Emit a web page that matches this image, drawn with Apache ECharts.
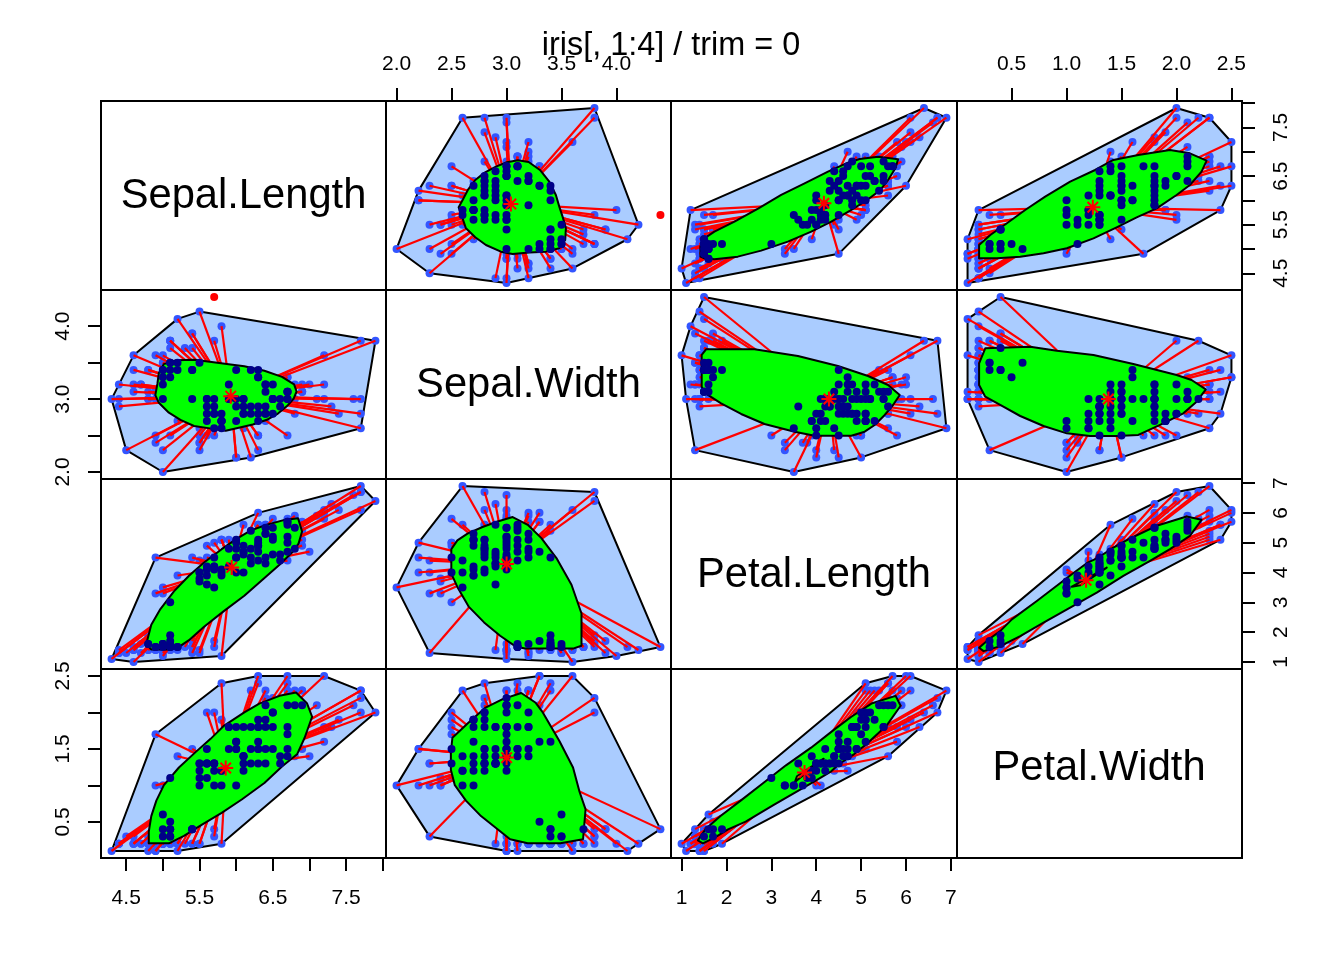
<!DOCTYPE html>
<html><head><meta charset="utf-8">
<style>html,body{margin:0;padding:0;background:#fff}#c{width:1344px;height:960px}</style>
<script src="https://cdn.jsdelivr.net/npm/echarts@6/dist/echarts.min.js"></script>
</head><body><div id="c"></div>
<script>
const sepalLength=[5.1,4.9,4.7,4.6,5.0,5.4,4.6,5.0,4.4,4.9,5.4,4.8,4.8,4.3,5.8,5.7,5.4,5.1,5.7,5.1,5.4,5.1,4.6,5.1,4.8,5.0,5.0,5.2,5.2,4.7,4.8,5.4,5.2,5.5,4.9,5.0,5.5,4.9,4.4,5.1,5.0,4.5,4.4,5.0,5.1,4.8,5.1,4.6,5.3,5.0,
7.0,6.4,6.9,5.5,6.5,5.7,6.3,4.9,6.6,5.2,5.0,5.9,6.0,6.1,5.6,6.7,5.6,5.8,6.2,5.6,5.9,6.1,6.3,6.1,6.4,6.6,6.8,6.7,6.0,5.7,5.5,5.5,5.8,6.0,5.4,6.0,6.7,6.3,5.6,5.5,5.5,6.1,5.8,5.0,5.6,5.7,5.7,6.2,5.1,5.7,
6.3,5.8,7.1,6.3,6.5,7.6,4.9,7.3,6.7,7.2,6.5,6.4,6.8,5.7,5.8,6.4,6.5,7.7,7.7,6.0,6.9,5.6,7.7,6.3,6.7,7.2,6.2,6.1,6.4,7.2,7.4,7.9,6.4,6.3,6.1,7.7,6.3,6.4,6.0,6.9,6.7,6.9,5.8,6.8,6.7,6.7,6.3,6.5,6.2,5.9];
const sepalWidth=[3.5,3.0,3.2,3.1,3.6,3.9,3.4,3.4,2.9,3.1,3.7,3.4,3.0,3.0,4.0,4.4,3.9,3.5,3.8,3.8,3.4,3.7,3.6,3.3,3.4,3.0,3.4,3.5,3.4,3.2,3.1,3.4,4.1,4.2,3.1,3.2,3.5,3.6,3.0,3.4,3.5,2.3,3.2,3.5,3.8,3.0,3.8,3.2,3.7,3.3,
3.2,3.2,3.1,2.3,2.8,2.8,3.3,2.4,2.9,2.7,2.0,3.0,2.2,2.9,2.9,3.1,3.0,2.7,2.2,2.5,3.2,2.8,2.5,2.8,2.9,3.0,2.8,3.0,2.9,2.6,2.4,2.4,2.7,2.7,3.0,3.4,3.1,2.3,3.0,2.5,2.6,3.0,2.6,2.3,2.7,3.0,2.9,2.9,2.5,2.8,
3.3,2.7,3.0,2.9,3.0,3.0,2.5,2.9,2.5,3.6,3.2,2.7,3.0,2.5,2.8,3.2,3.0,3.8,2.6,2.2,3.2,2.8,2.8,2.7,3.3,3.2,2.8,3.0,2.8,3.0,2.8,3.8,2.8,2.8,2.6,3.0,3.4,3.1,3.0,3.1,3.1,3.1,2.7,3.2,3.3,3.0,2.5,3.0,3.4,3.0];
const petalLength=[1.4,1.4,1.3,1.5,1.4,1.7,1.4,1.5,1.4,1.5,1.5,1.6,1.4,1.1,1.2,1.5,1.3,1.4,1.7,1.5,1.7,1.5,1.0,1.7,1.9,1.6,1.6,1.5,1.4,1.6,1.6,1.5,1.5,1.4,1.5,1.2,1.3,1.4,1.3,1.5,1.3,1.3,1.3,1.6,1.9,1.4,1.6,1.4,1.5,1.4,
4.7,4.5,4.9,4.0,4.6,4.5,4.7,3.3,4.6,3.9,3.5,4.2,4.0,4.7,3.6,4.4,4.5,4.1,4.5,3.9,4.8,4.0,4.9,4.7,4.3,4.4,4.8,5.0,4.5,3.5,3.8,3.7,3.9,5.1,4.5,4.5,4.7,4.4,4.1,4.0,4.4,4.6,4.0,3.3,4.2,4.2,4.2,4.3,3.0,4.1,
6.0,5.1,5.9,5.6,5.8,6.6,4.5,6.3,5.8,6.1,5.1,5.3,5.5,5.0,5.1,5.3,5.5,6.7,6.9,5.0,5.7,4.9,6.7,4.9,5.7,6.0,4.8,4.9,5.6,5.8,6.1,6.4,5.6,5.1,5.6,6.1,5.6,5.5,4.8,5.4,5.6,5.1,5.1,5.9,5.7,5.2,5.0,5.2,5.4,5.1];
const petalWidth=[0.2,0.2,0.2,0.2,0.2,0.4,0.3,0.2,0.2,0.1,0.2,0.2,0.1,0.1,0.2,0.4,0.4,0.3,0.3,0.3,0.2,0.4,0.2,0.5,0.2,0.2,0.4,0.2,0.2,0.2,0.2,0.4,0.1,0.2,0.2,0.2,0.2,0.1,0.2,0.2,0.3,0.3,0.2,0.6,0.4,0.3,0.2,0.2,0.2,0.2,
1.4,1.5,1.5,1.3,1.5,1.3,1.6,1.0,1.3,1.4,1.0,1.5,1.0,1.4,1.3,1.4,1.5,1.0,1.5,1.1,1.8,1.3,1.5,1.2,1.3,1.4,1.4,1.7,1.5,1.0,1.1,1.0,1.2,1.6,1.5,1.6,1.5,1.3,1.3,1.3,1.2,1.4,1.2,1.0,1.3,1.2,1.3,1.3,1.1,1.3,
2.5,1.9,2.1,1.8,2.2,2.1,1.7,1.8,1.8,2.5,2.0,1.9,2.1,2.0,2.4,2.3,1.8,2.2,2.3,1.5,2.3,2.0,2.0,1.8,2.1,1.8,1.8,1.8,2.1,1.6,1.9,2.0,2.2,1.5,1.4,2.3,2.4,1.8,1.8,2.1,2.4,2.3,1.9,2.3,2.5,2.3,1.9,2.0,2.3,1.8];
const varNames=['Sepal.Length','Sepal.Width','Petal.Length','Petal.Width'];
const mainTitle='iris[, 1:4] / trim = 0';

// bag outlines (x variable, y variable)
const bagSW_SL_x=[2.565,2.607,2.652,2.716,2.801,2.904,3.004,3.104,3.201,3.304,3.389,3.449,3.480,3.510,3.540,3.534,3.480,3.358,3.207,3.055,2.949,2.813,2.716,2.631,2.595];
const bagSW_SL_y=[5.857,6.035,6.227,6.419,6.570,6.694,6.783,6.824,6.790,6.625,6.385,6.111,5.871,5.665,5.425,5.185,5.014,4.945,4.925,4.897,4.945,5.082,5.240,5.425,5.665];
const bagPL_SL_x=[1.419,1.419,1.471,1.731,2.178,2.713,3.219,3.740,4.261,4.707,4.968,5.377,5.823,5.764,5.600,5.414,5.154,4.782,4.335,3.889,3.368,2.773,2.252,1.731,1.508];
const bagPL_SL_y=[4.842,5.048,5.199,5.356,5.562,5.836,6.111,6.351,6.591,6.776,6.851,6.899,6.844,6.659,6.419,6.200,6.022,5.802,5.562,5.356,5.151,4.966,4.842,4.787,4.808];
const bagPW_SL_x=[0.205,0.205,0.307,0.458,0.624,0.806,1.033,1.260,1.426,1.653,1.941,2.122,2.274,2.228,2.122,2.001,1.820,1.638,1.456,1.245,1.003,0.791,0.579,0.367];
const bagPW_SL_y=[4.808,5.082,5.288,5.528,5.802,6.076,6.385,6.625,6.831,6.934,7.036,6.968,6.817,6.591,6.316,6.111,5.836,5.651,5.446,5.219,5.014,4.911,4.842,4.808];
const bagPL_SW_x=[1.448,1.545,2.624,3.591,4.484,5.154,5.600,5.860,5.711,5.526,5.302,5.079,4.782,3.963,3.517,2.847,2.326,1.880,1.508,1.448];
const bagPL_SW_y=[3.605,3.682,3.682,3.591,3.454,3.317,3.193,3.056,2.919,2.782,2.645,2.553,2.498,2.498,2.553,2.658,2.796,2.942,3.088,3.170];
const bagPW_SW_x=[0.205,0.261,0.670,0.912,1.245,1.608,2.001,2.137,2.267,2.183,2.062,1.880,1.653,1.456,1.214,1.003,0.791,0.579,0.397,0.261,0.205];
const bagPW_SW_y=[3.490,3.696,3.719,3.664,3.605,3.481,3.330,3.262,3.134,2.965,2.805,2.668,2.508,2.494,2.494,2.530,2.631,2.768,2.919,3.033,3.193];
const bagPW_PL_x=[0.205,0.291,0.397,0.503,0.730,1.048,1.193,1.290,1.426,1.578,1.820,2.092,2.228,2.122,1.941,1.744,1.517,1.275,1.033,0.791,0.579,0.397,0.246];
const bagPW_PL_y=[1.475,1.755,2.035,2.428,3.044,3.941,4.334,4.502,4.838,5.141,5.567,5.880,5.768,5.230,4.782,4.356,3.885,3.325,2.820,2.316,1.867,1.531,1.363];
// small sliver inside the Petal bag
const notchPW=[1.048,1.366,1.125];
const notchPL=[3.526,4.165,3.570];
// bag centres
const centerSW_SL=[3.04,5.926], centerPL_SL=[4.171,5.939], centerPW_SL=[1.239,5.857];
const centerPL_SW=[4.283,3.001], centerPW_SW=[1.381,3.001], centerPW_PL=[1.178,3.739];
// outlier of the Sepal pair
const outlierSW_SL=[4.4,5.7];

// scales and ticks
const axisMin=[4.156,1.904,0.764,0.004], axisMax=[8.044,4.496,7.136,2.596];
const tickVals=[[4.5,5,5.5,6,6.5,7,7.5,8],[2,2.5,3,3.5,4],[1,2,3,4,5,6,7],[0.5,1,1.5,2,2.5]];
const labelsX=[[4.5,5.5,6.5,7.5],[2,2.5,3,3.5,4],[1,2,3,4,5,6,7],[0.5,1,1.5,2,2.5]];
const labelsY=[[4.5,5.5,6.5,7.5],[2,3,4],[1,2,3,4,5,6,7],[0.5,1.5,2.5]];
const decimals=[1,1,0,1];

const vars=[sepalLength,sepalWidth,petalLength,petalWidth];
const bags={'1,0':[bagSW_SL_x,bagSW_SL_y,centerSW_SL],'2,0':[bagPL_SL_x,bagPL_SL_y,centerPL_SL],'3,0':[bagPW_SL_x,bagPW_SL_y,centerPW_SL],
 '2,1':[bagPL_SW_x,bagPL_SW_y,centerPL_SW],'3,1':[bagPW_SW_x,bagPW_SW_y,centerPW_SW],'3,2':[bagPW_PL_x,bagPW_PL_y,centerPW_PL]};

const X=[101,386,671,957,1242], Y=[101,290,479,669,858];
const C={hull:'#aaccff',outer:'#3355ff',inner:'#000088',bag:'#00ff00',red:'#ff0000'};
const FONT='Liberation Sans';
const STAR='path://M5 0L5 10M0 5L10 5M1.5 1.5L8.5 8.5M1.5 8.5L8.5 1.5';

function inside(p,poly){let c=false;for(let i=0,j=poly.length-1;i<poly.length;j=i++){const a=poly[i],b=poly[j];
  if((a[1]>p[1])!==(b[1]>p[1])&&p[0]<(b[0]-a[0])*(p[1]-a[1])/(b[1]-a[1])+a[0])c=!c;}return c;}
function hull(pts){const s=pts.slice().sort((a,b)=>a[0]-b[0]||a[1]-b[1]);
  const cr=(o,a,b)=>(a[0]-o[0])*(b[1]-o[1])-(a[1]-o[1])*(b[0]-o[0]);
  const lo=[],up=[];for(const p of s){while(lo.length>1&&cr(lo[lo.length-2],lo[lo.length-1],p)<=0)lo.pop();lo.push(p);}
  for(const p of s.slice().reverse()){while(up.length>1&&cr(up[up.length-2],up[up.length-1],p)<=0)up.pop();up.push(p);}
  return lo.slice(0,-1).concat(up.slice(0,-1));}
function polySeries(g,pts,fill,stroke,lw,z){return {type:'custom',coordinateSystem:'cartesian2d',xAxisIndex:g,yAxisIndex:g,z,silent:true,animation:false,clip:false,
  data:pts,encode:{x:0,y:1},renderItem(params,api){if(params.dataIndex!==0)return null;
    return {type:'polygon',shape:{points:pts.map(p=>api.coord(p))},style:{fill,stroke,lineWidth:lw,lineJoin:'round'}};}};}

const grid=[],xAxis=[],yAxis=[],series=[],graphic=[];
const lab={fontFamily:FONT,fontSize:21,color:'#000'};
let g=0;
for(let i=0;i<4;i++)for(let j=0;j<4;j++){
  grid.push({left:X[j],top:Y[i],width:X[j+1]-X[j],height:Y[i+1]-Y[i],show:true,borderColor:'#000',borderWidth:2,backgroundColor:'transparent',containLabel:false});
  if(i===j){
    xAxis.push({type:'value',gridIndex:g,show:false,min:0,max:1});
    yAxis.push({type:'value',gridIndex:g,show:false,min:0,max:1});
    g++;continue;
  }
  const showX=(j%2===0&&i===3)||(j%2===1&&i===0);
  const showY=(i%2===0&&j===3)||(i%2===1&&j===0);
  const bottom=j%2===0, left=i%2===1;
  xAxis.push({type:'value',gridIndex:g,show:showX,min:axisMin[j],max:axisMax[j],position:bottom?'bottom':'top',splitLine:{show:false},
    axisLine:{show:true,onZero:false,lineStyle:{color:'#000',width:2}},
    axisTick:{show:true,length:13,inside:false,customValues:tickVals[j],lineStyle:{color:'#000',width:2}},
    axisLabel:{...lab,show:true,margin:bottom?30:26,customValues:labelsX[j],hideOverlap:false,formatter:v=>(+v).toFixed(decimals[j])}});
  yAxis.push({type:'value',gridIndex:g,show:showY,min:axisMin[i],max:axisMax[i],position:left?'left':'right',splitLine:{show:false},
    axisLine:{show:true,onZero:false,lineStyle:{color:'#000',width:2}},
    axisTick:{show:true,length:13,inside:false,customValues:tickVals[i],lineStyle:{color:'#000',width:2}},
    axisLabel:{...lab,show:true,rotate:90,margin:left?27:29,customValues:labelsY[i],hideOverlap:false,formatter:v=>(+v).toFixed(decimals[i])}});

  const hi=Math.max(i,j), lo=Math.min(i,j);
  const b=bags[hi+','+lo];
  const swap=i>j;
  const bagPts=b[0].map((v,k)=>swap?[b[1][k],v]:[v,b[1][k]]);
  const center=swap?[b[2][1],b[2][0]]:[b[2][0],b[2][1]];
  const isOutPair=(hi===1&&lo===0);
  let pts=vars[j].map((v,k)=>[v,vars[i][k]]);
  let outliers=[];
  if(isOutPair){
    const o=swap?[outlierSW_SL[1],outlierSW_SL[0]]:outlierSW_SL;
    outliers=pts.filter(p=>p[0]===o[0]&&p[1]===o[1]);
    pts=pts.filter(p=>!(p[0]===o[0]&&p[1]===o[1]));
  }
  const inner=pts.filter(p=>inside(p,bagPts));
  const outer=pts.filter(p=>!inside(p,bagPts));
  series.push(polySeries(g,hull(pts),C.hull,'#000',2,3));
  series.push({type:'scatter',xAxisIndex:g,yAxisIndex:g,z:4,silent:true,animation:false,symbolSize:8,itemStyle:{color:C.outer,opacity:1},data:outer});
  series.push({type:'custom',coordinateSystem:'cartesian2d',xAxisIndex:g,yAxisIndex:g,z:5,silent:true,animation:false,clip:false,data:outer,encode:{x:0,y:1},
    renderItem(params,api){const p0=api.coord(center),p1=api.coord([api.value(0),api.value(1)]);
      return {type:'line',shape:{x1:p0[0],y1:p0[1],x2:p1[0],y2:p1[1]},style:{stroke:C.red,lineWidth:2.2}};}});
  series.push(polySeries(g,bagPts,C.bag,'#000',2,6));
  if(hi===3&&lo===2){
    const n=notchPW.map((v,k)=>swap?[notchPL[k],v]:[v,notchPL[k]]);
    series.push(polySeries(g,n,'#ff9900','#000',2,7));
  }
  series.push({type:'scatter',xAxisIndex:g,yAxisIndex:g,z:8,silent:true,animation:false,symbolSize:8,itemStyle:{color:C.inner,opacity:1},data:inner});
  series.push({type:'scatter',xAxisIndex:g,yAxisIndex:g,z:9,silent:true,animation:false,symbol:STAR,symbolSize:15,itemStyle:{color:'none',borderColor:C.red,borderWidth:2,opacity:1},data:[center]});
  if(outliers.length)series.push({type:'scatter',xAxisIndex:g,yAxisIndex:g,z:9,silent:true,animation:false,symbolSize:8,itemStyle:{color:C.red,opacity:1},data:outliers});
  g++;
}
const diagPos=[[243.5,197],[528.5,386],[814,576],[1099,769]];
varNames.forEach((n,k)=>graphic.push({type:'text',x:diagPos[k][0],y:diagPos[k][1],z:20,silent:true,
  style:{text:n,fontFamily:FONT,fontSize:41.7,fill:'#000',textAlign:'center',textVerticalAlign:'middle'}}));
graphic.push({type:'text',x:671,y:46,z:20,silent:true,style:{text:mainTitle,fontFamily:FONT,fontSize:32.4,fill:'#000',textAlign:'center',textVerticalAlign:'middle'}});

const chart=echarts.init(document.getElementById('c'),null,{renderer:'canvas'});
chart.setOption({animation:false,backgroundColor:'#fff',grid,xAxis,yAxis,series,graphic});
</script></body></html>
